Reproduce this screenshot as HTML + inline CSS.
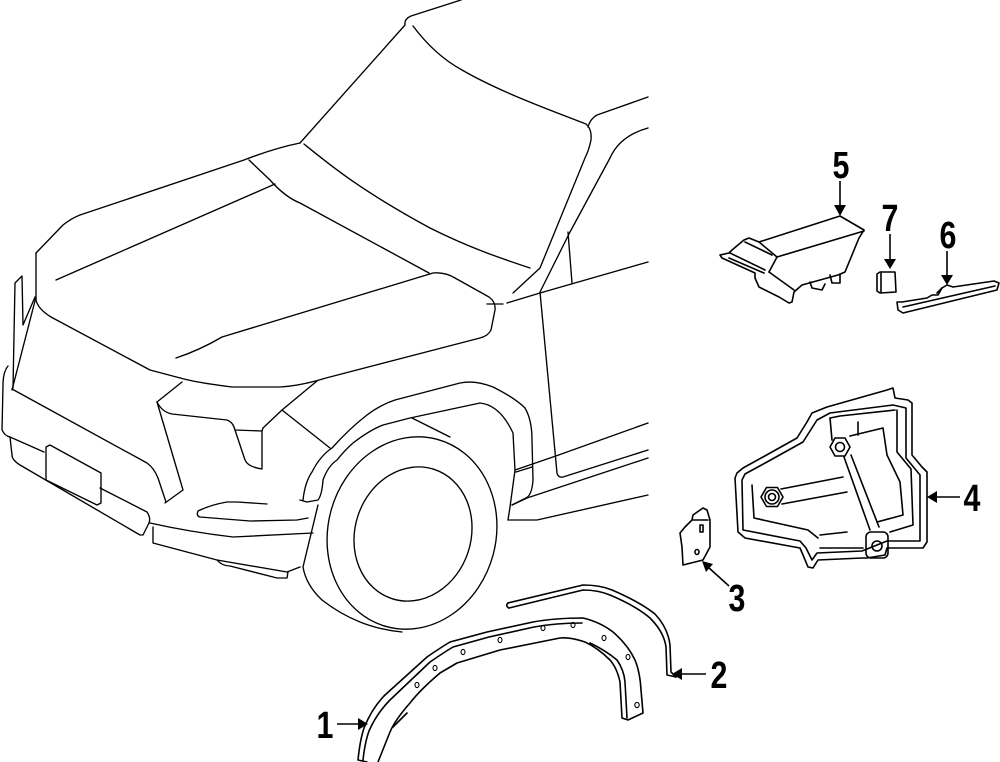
<!DOCTYPE html>
<html><head><meta charset="utf-8"><style>
html,body{margin:0;padding:0;background:#fff;}
svg{display:block;}
.c{fill:none;stroke:#000;stroke-width:1.35;stroke-linejoin:round;stroke-linecap:round;}
.p{fill:none;stroke:#000;stroke-width:1.6;stroke-linejoin:round;stroke-linecap:round;}
.t{font-family:"Liberation Sans",sans-serif;font-weight:bold;font-size:38px;fill:#000;}
</style></head><body>
<svg width="1000" height="762" viewBox="0 0 1000 762" xmlns="http://www.w3.org/2000/svg">
<!-- ===== CAR ===== -->
<g class="c">
<!-- roof / windshield -->
<path d="M461,0 L411,16 Q404,19 405,25 L300,143"/>
<path d="M413,26 C425,42 440,58 462,70 C500,92 550,110 586,124 Q592,129 591,140 Q589,150 585,158 L540,268 L513,293"/>
<path d="M648,97 L597,115 Q590,119 588,127"/>
<path d="M648,128 C630,133 617,142 610,158 L570,232 L540,292 L557,473 Q558,478 563,477 L648,450"/>
<path d="M568,232 L572,283"/>
<path d="M487,304 L503,304 M507,303 L540,293 L648,262"/>
<path d="M304,144 C330,165 360,190 430,228 C470,248 500,258 530,268"/>
<!-- hood -->
<path d="M36,253 L63,225 Q72,218 80,215 L244,160 Q275,148 300,143"/>
<path d="M249,160 L270,180 Q285,197 300,203 L429,273"/>
<path d="M275,184 L56,280"/>
<path d="M176,358 Q200,350 222,337 L433,273 Q445,272 455,278 L489,297 Q496,302 495,310 L491,330 Q488,336 480,338 L326,378 Q300,386 280,387 L232,387 Q200,383 184,379 L150,370 L51,317 Q38,309 36,300 L36,253"/>
<!-- left headlight / edge -->
<path d="M36,297 L12,390"/>
<path d="M13,388 L15,283 L22,276 L23,325 L35,297"/>
<path d="M8,366 Q3,372 3,385 L2,430 Q5,436 10,437"/>
<!-- grille -->
<path d="M157,402 L182,382"/>
<path d="M157,402 Q162,412 172,414 L227,420 Q233,422 235,430 L262,431 L263,428 L282,410 L317,381"/>
<path d="M235,430 L245,460 Q248,467 262,469 L262,431"/>
<path d="M157,402 L183,490 L165,503"/>
<path d="M282,410 L330,448"/>
<path d="M12,389 L147,463 Q154,468 158,478 L166,502"/>
<!-- plate & bumper -->
<path d="M10,437 L44,452"/>
<path d="M46,447 L50,445 L101,473 L101,503 L97,505 L46,480 Z"/>
<path d="M100,488 L147,512 Q151,518 149,523 L143,535 L140,535 L20,465 Q12,460 12,455 L10,437"/>
<path d="M267,504 L237,502 L227,502 Q210,505 198,511 Q196,516 200,517 L250,521 L297,520 L308,518"/>
<path d="M150,523 Q190,532 233,537 L313,533"/>
<path d="M153,527 L153,543 L217,560 L287,572 L300,567"/>
<path d="M217,560 Q222,566 230,566 L277,578 L287,578 L288,572"/>
<!-- fender -->
<path d="M303,500 Q305,482 312,472 Q320,456 332,448 Q350,428 367,415 Q380,405 395,400 L460,383 Q475,380 493,387 Q515,398 525,408 Q532,420 532,440 L533,480 Q532,495 526,498 L512,505"/>
<path d="M300,500 L307,502 L318,500 Q322,495 323,480 Q328,466 337,460 Q345,450 353,443 Q370,430 383,425 L410,418 L480,403 Q500,405 513,433 L515,470 L510,507 L508,520"/>
<path d="M412,418 L450,437"/>
<!-- tire -->
<ellipse cx="412" cy="533" rx="84" ry="97" transform="rotate(15 412 533)"/>
<ellipse cx="413" cy="534" rx="58" ry="68" transform="rotate(18 413 534)"/>
<path d="M318,505 L303,567 Q306,585 322,600 Q340,614 360,622 Q380,630 402,632"/>
<!-- door / rocker -->
<path d="M516,472 L532,467"/>
<path d="M515,470 L553,457 L648,423"/>
<path d="M512,505 L527,498 L648,458"/>
<path d="M508,520 L537,520 L648,495"/>
</g>

<!-- ===== PART 5 ===== -->
<g class="p">
<path d="M720,255 L729,253 L732,250 L744,240 L749,238 L759,242 L840,216 L864,230 L859,238 L845,272 L838,275 L802,285 L794,292 L792,302 L789,303 L779,297 L759,287 L755,278 L755,273 L722,258 Z"/>
<path d="M759,242 L777,257 L864,231"/>
<path d="M777,257 L769,272"/>
<path d="M730,253 L765,270 M729,258 L764,273 M769,272 L794,290 M745,242 L772,255"/>
<path d="M830,275 L832,283 L840,283 L840,274"/>
<path d="M810,282 L812,288 L822,290 L825,284"/>
</g>
<!-- ===== PART 7 ===== -->
<g class="p">
<path d="M877,274 L880,272 L895,272 L896,292 L880,293 L877,291 Z"/>
<path d="M881,273 L881,292"/>
</g>
<!-- ===== PART 6 ===== -->
<g class="p">
<path d="M897,302 L898,310 L903,313 L997,290 L999,283 L994,281 L953,287 L947,285 L942,288 L938,295 L932,295 L927,298 L902,302 Z"/>
<path d="M903,307 L995,286"/>
<path d="M942,288 L937,293"/>
</g>
<!-- ===== PART 4 ===== -->
<g class="p">
<path d="M737,473 L735,478 L738,532 L745,538 L800,548 L803,555 L808,567 L813,568 L818,560 L862,558 L867,558 L885,555 L887,548 L923,548 L927,542 L927,472 L922,467 L912,455 L912,403 L908,400 L895,398 L893,388 L887,390 L827,407 L812,413 L807,422 L797,438 L763,457 L743,468 Z"/>
<path d="M742,480 L743,530 L800,541 L806,548 L812,560 L817,553 L862,551 L887,541 L920,541 L920,475 L906,458 L906,408 L893,405 L830,413 L817,420 L803,442 L767,462 L745,474 Z"/>
<path d="M897,410 L897,452 L911,469 L913,525 L890,532"/>
<path d="M752,485 L754,518 L808,530 L818,538"/>
<path d="M830,418 L840,416 L895,410"/>
<path d="M830,418 L832,440"/>
<polygon points="850,447 845,456 835,456 830,447 835,438 845,438"/>
<circle cx="840" cy="447" r="4.5"/>
<polygon points="783,497 777.5,506.5 766.5,506.5 761,497 766.5,487.5 777.5,487.5"/>
<circle cx="772" cy="497" r="7"/>
<circle cx="772" cy="497" r="3.5"/>
<rect x="866" y="532" width="22" height="26" rx="5"/>
<circle cx="877" cy="546" r="5"/>
<path d="M844,457 L870,530 M851,455 L879,527"/>
<path d="M781,489 L843,477 M782,504 L847,492"/>
<path d="M850,436 L883,428 L887,455 L900,482 L903,515 L877,522"/>
<path d="M858,422 L858,435"/>
<path d="M820,535 L847,532 M820,548 L863,548"/>
</g>
<!-- ===== PART 3 ===== -->
<g class="p">
<path d="M693,515 L703,508 L707,510 L710,520 L710,547 L703,560 L683,565 L682,547 L680,533 L685,527 L692,520 Z"/>
<path d="M692,520 L708,520"/>
<path d="M700,525 L703,525 L703,532 L700,532 Z"/>
<ellipse cx="697" cy="552" rx="2" ry="2.5"/>
</g>
<!-- ===== PART 2 ===== -->
<g class="p">
<path d="M508,603 L583,585 Q600,585 612,590 Q640,602 655,614 Q668,628 670,645 L671,672 L676,677"/>
<path d="M509,608 L583,590 Q598,590 610,595 Q636,606 650,618 Q664,632 666,647 L667,675 L676,677"/>
<path d="M508,603 Q505,606 509,608"/>
</g>
<!-- ===== PART 1 ===== -->
<g class="p">
<path d="M367,762 L358,760 Q360,740 364,728 Q372,708 385,695 L427,657 Q440,648 450,642 L487,632 L533,622 Q555,618 583,618 Q600,622 613,632 Q628,645 635,660 Q640,672 641,690 L643,713 L628,720 L622,718 L620,682 Q617,668 610,660 Q598,648 585,642 Q570,637 560,638 L540,642 L500,650 L457,663 L440,673 Q420,690 410,703 Q395,720 390,732 L380,757 L378,762"/>
<path d="M363,760 Q365,742 369,731 Q377,713 390,700 L430,662 Q443,653 453,647 L489,637 L534,627 Q556,623 582,623"/>
<path d="M590,643 Q605,650 617,660 Q624,670 625,682 L627,718"/>
<path d="M393,727 L407,713"/>
</g>
<g style="fill:none;stroke:#000;stroke-width:1.1">
<ellipse cx="417" cy="685" rx="2" ry="2.6"/>
<ellipse cx="435" cy="668" rx="2" ry="2.6"/>
<ellipse cx="463" cy="652" rx="2" ry="2.6"/>
<ellipse cx="500" cy="640" rx="2" ry="2.6"/>
<ellipse cx="543" cy="628" rx="2" ry="2.6"/>
<ellipse cx="573" cy="625" rx="2" ry="2.6"/>
<ellipse cx="604" cy="638" rx="2" ry="2.6"/>
<ellipse cx="628" cy="657" rx="2" ry="2.6"/>
<ellipse cx="637" cy="705" rx="2.2" ry="2.6"/>
</g>

<!-- ===== ARROWS ===== -->
<g stroke="#000" stroke-width="1.6" fill="none">
<path d="M840,181 L840,207"/>
<path d="M890,234 L890,260"/>
<path d="M947,251 L947,276"/>
<path d="M960,497 L935,497"/>
<path d="M729,586 L708,567"/>
<path d="M706,674 L680,674"/>
<path d="M337,724 L360,724"/>
</g>
<g fill="#000">
<polygon points="834,205 846,205 840,216"/>
<polygon points="884,259 896,259 890,269"/>
<polygon points="941,275 953,275 947,285"/>
<polygon points="937,491 937,503 927,497"/>
<polygon points="702,561 713,564 706,572"/>
<polygon points="682,668 682,680 672,674"/>
<polygon points="358,718 358,730 368,724"/>
</g>

<!-- ===== LABELS ===== -->
<g class="t" text-anchor="middle">
<text transform="translate(841,178) scale(0.8,1)">5</text>
<text transform="translate(890,231) scale(0.8,1)">7</text>
<text transform="translate(948,248) scale(0.8,1)">6</text>
<text transform="translate(972,511) scale(0.8,1)">4</text>
<text transform="translate(737,611) scale(0.8,1)">3</text>
<text transform="translate(719,688) scale(0.8,1)">2</text>
<text transform="translate(325,738) scale(0.8,1)">1</text>
</g>
</svg>
</body></html>
